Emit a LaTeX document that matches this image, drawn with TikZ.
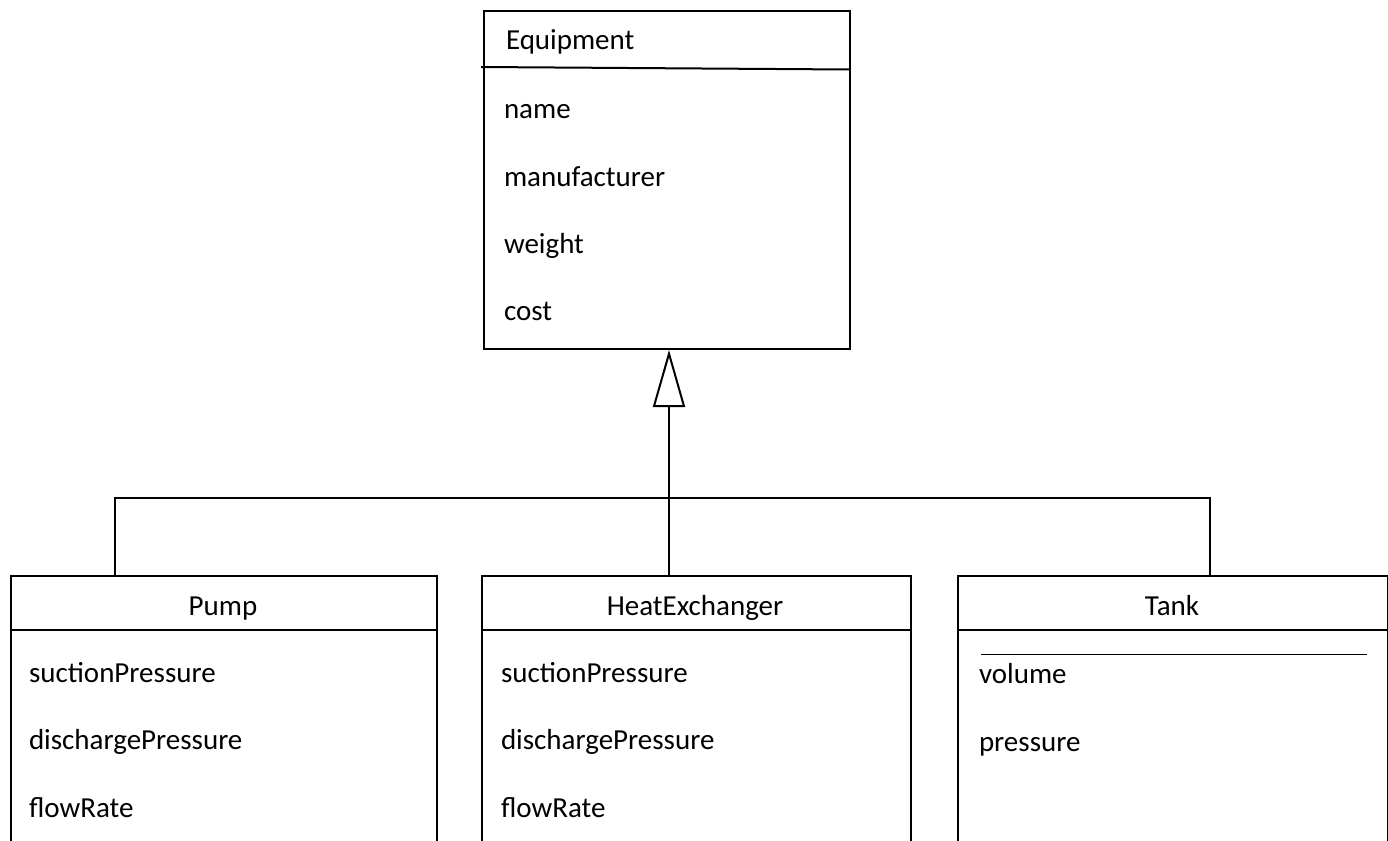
\documentclass[tikz,border=0pt]{standalone}
\usepackage{fontspec}
\setmainfont{Carlito}
\usetikzlibrary{arrows.meta,positioning}

\begin{document}
\begin{tikzpicture}[x=1pt,y=-1pt,line width=2pt,
                    class box/.style={rectangle,draw,anchor=north west,inner sep=0pt},
                    attr/.style={anchor=base west,inner sep=0pt,font=\fontsize{29}{34}\selectfont},
                    title/.style={anchor=base,inner sep=0pt,font=\fontsize{29}{34}\selectfont}]
      \clip (0,0) rectangle (1388,840);
      % class boxes
      \node[class box, minimum width=366pt, minimum height=338pt] (equip) at (483,10) {};
      \node[class box, minimum width=426pt, minimum height=320pt] (pump) at (10,575) {};
      \node[class box, minimum width=429pt, minimum height=320pt] (hx) at (481,575) {};
      \node[class box, minimum width=430pt, minimum height=320pt] (tank) at (957,575) {};
      % titles
      \node[attr] (equiptitle) at (505,50) {Equipment};
      \node[title] (pumptitle) at (223,615) {Pump};
      \node[title] (hxtitle) at (695,615) {HeatExchanger};
      \node[title] (tanktitle) at (1172,615) {Tank};
      % separators
      \draw (481,67) -- (849,69.5);
      \draw (pump.west |- 0,630) -- (pump.east |- 0,630);
      \draw (hx.west |- 0,630) -- (hx.east |- 0,630);
      \draw (tank.west |- 0,630) -- (tank.east |- 0,630);
      \draw[line width=1.3pt] (981,654.5) -- (1367,654.5);
      % attributes
      \node[attr] (name) at (503,118) {name};
      \node[attr] (manufacturer) at (503,186) {manufacturer};
      \node[attr] (weight) at (503,253) {weight};
      \node[attr] (cost) at (503,320) {cost};
      \node[attr] (psuction) at (28,682) {suctionPressure};
      \node[attr] (pdischarge) at (28,749) {dischargePressure};
      \node[attr] (pflow) at (28,817) {flowRate};
      \node[attr] (hsuction) at (500,682) {suctionPressure};
      \node[attr] (hdischarge) at (500,749) {dischargePressure};
      \node[attr] (hflow) at (500,817) {flowRate};
      \node[attr] (volume) at (978,683) {volume};
      \node[attr] (pressure) at (978,751) {pressure};
      % generalisation
      \coordinate (bus) at (669,498);
      \draw (pump.north -| 115,0) |- (bus);
      \draw (tank.north -| 1210,0) |- (bus);
      \draw[-{Triangle[open,length=57pt,width=32pt,line width=2pt]}] (hx.north -| bus) -- (equip.south -| bus);
\end{tikzpicture}
\end{document}
